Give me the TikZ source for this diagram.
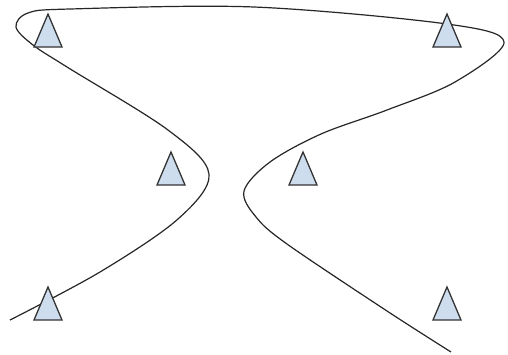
\documentclass[tikz,border=0pt]{standalone}
\begin{document}
\begin{tikzpicture}[x=1pt,y=-1pt,
  curve/.style={draw=black!85, line width=1.2pt, line join=round},
  tri/.pic={\draw[draw=black!80, fill={rgb,255:red,206;green,221;blue,238}, line width=1.3pt, line join=miter]
     (-14,0) -- (0,-33) -- (14,0) -- cycle;}]
\useasboundingbox (0,0) rectangle (508,354);
\draw[curve] plot[smooth, tension=0.55] coordinates {
  (10,320) (100,272) (178,219) (209,174) (168,130) (67,67) (33,45) (16,27)
  (28,13) (70,9) (254,7) (447,24) (504,42)
  (455,82) (387,110) (321,134) (270,162) (244,191) (256,217) (287,244) (387,311) (451,352)};
\foreach \n/\x/\y in {a/48/47, b/447/47, c/171/185, d/303/185, e/48/320, f/447/320}
  \pic (\n) at (\x,\y) {tri};
\end{tikzpicture}
\end{document}
